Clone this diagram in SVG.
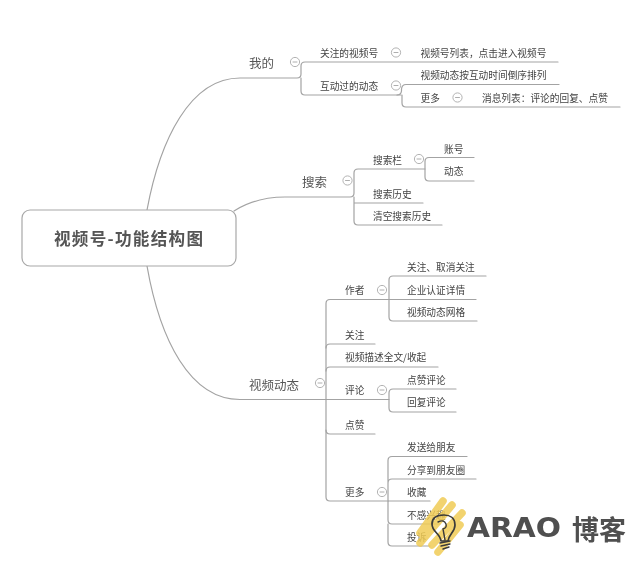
<svg xmlns="http://www.w3.org/2000/svg" width="640" height="562" viewBox="0 0 640 562">
<style>
text{font-family:"Noto Sans CJK SC","Noto Sans",sans-serif;fill:#444;dominant-baseline:central}
.t{font-size:9.7px}
.m{font-size:12.5px;fill:#555}
.r{font-size:16.6px;font-weight:700;fill:#555}
.l{fill:none;stroke:#a3a3a3;stroke-width:1.2;stroke-linecap:round}
.c{fill:#fff;stroke:#aaa;stroke-width:.9}
.d{stroke:#999;stroke-width:.8}
.y{stroke:#f0cb55;stroke-width:7.500;stroke-linecap:round;fill:none;opacity:.85}
</style>
<defs>
<filter id="soft" x="-5%" y="-5%" width="110%" height="110%"><feGaussianBlur stdDeviation="0.35"/></filter>
<g id="cc"><circle class="c" r="4.6"/><path class="d" d="M-2.4 0H2.4"/></g>
</defs>
<rect width="640" height="562" fill="#fff"/>
<g filter="url(#soft)">
<g id="connectors">
<path class="l" d="M147 210C160 140 190 78 240 78H297Q301 78 301 74V66Q301 62 305 62H558M301 78V91Q301 95 305 95H401"/>
<path class="l" d="M397 95Q401 95 401.500 91V89Q402 84.500 406 84.500H559M402 95V103Q402 107 406 107H620"/>
<path class="l" d="M234 211C250 201 265 197 285 197H350Q354 197 354 193V173Q354 169 358 169H425M354 197V203H423M354 203V221Q354 225 358 225H442"/>
<path class="l" d="M425 169V161.500Q425 157.500 429 157.500H474M425 169V177Q425 181 429 181H474"/>
<path class="l" d="M147 266C160 340 190 399.500 240 399.500H389"/>
<path class="l" d="M326 399.500V303.500Q326 299.500 330 299.500H389V280Q389 276 393 276H486M389 299.500H476M389 299.500V317Q389 321 393 321H477"/>
<path class="l" d="M326 348Q326 344 330 344H375M326 371Q326 367 330 367H438M326 430Q326 434 330 434H375"/>
<path class="l" d="M326 399.500V497Q326 501 330 501H388"/>
<path class="l" d="M389 399.500V393Q389 389 393 389H456M389 399.500V408Q389 412 393 412H456"/>
<path class="l" d="M388 501V460.500Q388 456.500 392 456.500H467M388 483Q388 479 392 479H476M388 501H430M388 501V520Q388 524 392 524H440M388 524V542Q388 546 392 546H430"/>
</g>
<g id="root"><rect x="22" y="210" width="214" height="56" rx="8" fill="#fff" stroke="#a8a8a8" stroke-width="1.2"/><text class="r" x="54" y="238" textLength="149" lengthAdjust="spacing">视频号-功能结构图</text></g>
<g id="n-wode"><text class="m" x="249" y="62">我的</text><use href="#cc" x="295" y="62"/></g>
<g id="n-gz"><text class="t" x="320" y="52.500">关注的视频号</text><use href="#cc" x="396" y="52.500"/></g>
<g id="n-gzl"><text class="t" x="420.500" y="52.500">视频号列表，点击进入视频号</text></g>
<g id="n-hd"><text class="t" x="320" y="86">互动过的动态</text><use href="#cc" x="396" y="85.500"/></g>
<g id="n-hdl"><text class="t" x="420.500" y="75">视频动态按互动时间倒序排列</text></g>
<g id="n-gd1"><text class="t" x="420.500" y="98">更多</text><use href="#cc" x="457.500" y="97.500"/></g>
<g id="n-xx"><text class="t" x="482" y="98">消息列表：评论的回复、点赞</text></g>
<g id="n-ss"><text class="m" x="302" y="181">搜索</text><use href="#cc" x="347.500" y="180.500"/></g>
<g id="n-ssl"><text class="t" x="373" y="160">搜索栏</text><use href="#cc" x="419" y="159"/></g>
<g id="n-zh"><text class="t" x="444" y="149">账号</text></g>
<g id="n-dt"><text class="t" x="444" y="171">动态</text></g>
<g id="n-lsh"><text class="t" x="373" y="194">搜索历史</text></g>
<g id="n-qk"><text class="t" x="373" y="216">清空搜索历史</text></g>
<g id="n-sp"><text class="m" x="249" y="384">视频动态</text><use href="#cc" x="320" y="383"/></g>
<g id="n-zz"><text class="t" x="345" y="290">作者</text><use href="#cc" x="382" y="290"/></g>
<g id="n-qx"><text class="t" x="407" y="267">关注、取消关注</text></g>
<g id="n-qy"><text class="t" x="407" y="289.500">企业认证详情</text></g>
<g id="n-wg"><text class="t" x="407" y="312">视频动态网格</text></g>
<g id="n-guanzhu"><text class="t" x="345" y="335">关注</text></g>
<g id="n-ms"><text class="t" x="345" y="357">视频描述全文/收起</text></g>
<g id="n-pl"><text class="t" x="345" y="390">评论</text><use href="#cc" x="382" y="390"/></g>
<g id="n-dzpl"><text class="t" x="407" y="380">点赞评论</text></g>
<g id="n-hfpl"><text class="t" x="407" y="402">回复评论</text></g>
<g id="n-dz"><text class="t" x="345" y="425">点赞</text></g>
<g id="n-gd2"><text class="t" x="345" y="492">更多</text><use href="#cc" x="382" y="492"/></g>
<g id="n-fs"><text class="t" x="407" y="447">发送给朋友</text></g>
<g id="n-fx"><text class="t" x="407" y="470">分享到朋友圈</text></g>
<g id="n-sc"><text class="t" x="407" y="492">收藏</text></g>
<g id="n-bg"><text class="t" x="407" y="515">不感兴趣</text></g>
<g id="n-ts"><text class="t" x="407" y="537">投诉</text></g>
<g id="logo">
<path class="y" d="M420 533L443 501M420 543L452 505M432 545L462 513M438 552L460 525"/>
<path d="M441 541C440 533 432 532 432 524C432 517 438 515 444 515C450 515 455 518 455 525C455 532 449 534 448 541Z" fill="none" stroke="#3a3a3a" stroke-width="1.700" stroke-linejoin="round"/>
<path d="M438 522Q444 519 446 524Q447 528 443 529L445 540M440 543L450 541M441 546L450 544M443 549L449 547" fill="none" stroke="#3a3a3a" stroke-width="1.400" stroke-linecap="round"/>
<text x="467" y="527.500" font-size="26" textLength="94" lengthAdjust="spacingAndGlyphs" style="font-family:'DejaVu Sans',sans-serif;font-weight:700;fill:#4f4f4f">ARAO</text>
<text x="572" y="528" font-size="27" textLength="54" style="font-family:'Noto Sans CJK SC',sans-serif;font-weight:700;fill:#4f4f4f">博客</text>
</g>
</g>
</svg>
